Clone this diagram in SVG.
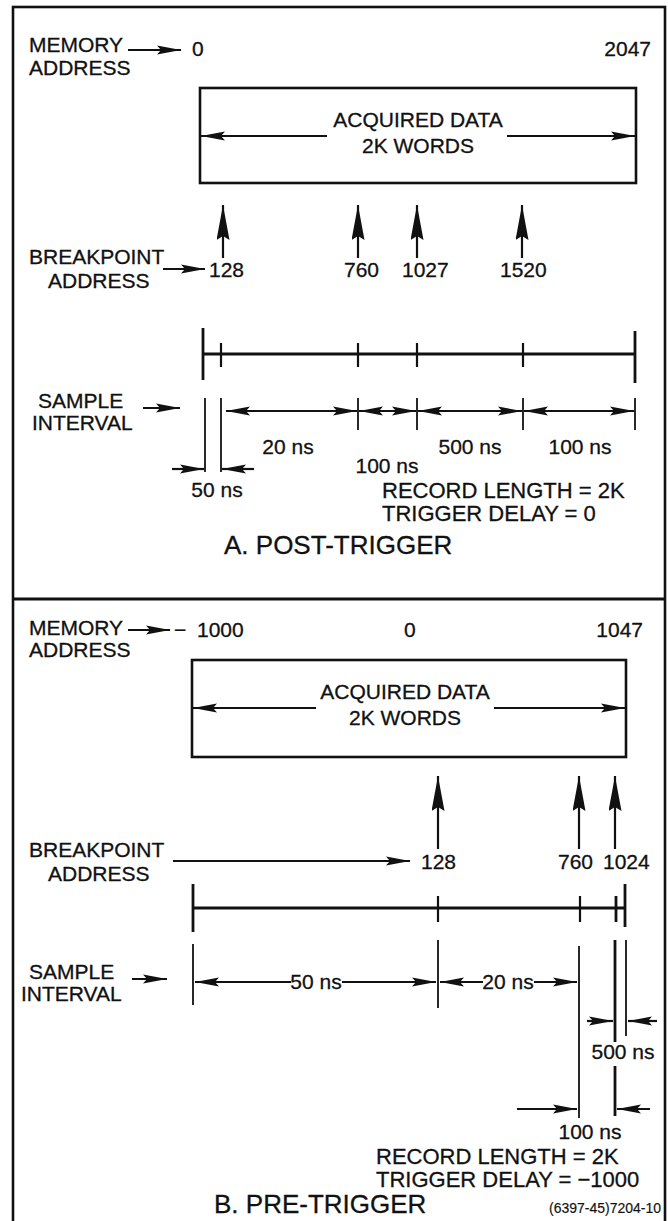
<svg xmlns="http://www.w3.org/2000/svg" width="668" height="1221" viewBox="0 0 668 1221">
<style>
text{font-family:"Liberation Sans",Arial,Helvetica,sans-serif;fill:#111;stroke:#111;stroke-width:0.3}
.l{font-size:21px}
.m{font-size:22px}
.t{font-size:26px}
.c{font-size:14px;stroke-width:0.15}
.mid{text-anchor:middle}
.end{text-anchor:end}
.ln{stroke:#111;stroke-width:2.2;fill:none}
.th{stroke:#111;stroke-width:1.8;fill:none}
.tl{stroke:#111;stroke-width:2.8;fill:none}
.box{stroke:#111;stroke-width:2.6;fill:none}
.ah{marker-end:url(#h)}
.dh{marker-end:url(#h);marker-start:url(#h)}
.up{marker-end:url(#v)}
</style>
<defs>
<marker id="h" viewBox="0 0 24 10" markerWidth="24" markerHeight="10" refX="24" refY="5" orient="auto-start-reverse" markerUnits="userSpaceOnUse">
<path d="M0,0.5 L24,5 L0,9.5 L4,5 z" fill="#111"/>
</marker>
<marker id="v" viewBox="0 0 35 13" markerWidth="35" markerHeight="13" refX="35" refY="6.5" orient="auto" markerUnits="userSpaceOnUse">
<path d="M0,0 L35,6.5 L0,13 L4,6.5 z" fill="#111"/>
</marker>
</defs>
<rect width="668" height="1221" fill="#fff"/>
<g id="frame">
<rect x="13" y="7" width="652" height="1230" class="box" stroke-width="3"/>
<line x1="13" y1="599" x2="665" y2="599" class="tl"/>
</g>

<!-- Section A -->
<g id="a-memory-label"><text class="l" x="29" y="52">MEMORY</text><text class="l" x="29" y="75">ADDRESS</text></g>
<g id="a-mem-0"><text class="l" x="192" y="56">0</text></g>
<g id="a-mem-2047"><text class="l end" x="651" y="56">2047</text></g>
<g id="a-data-box"><rect x="200" y="88" width="436" height="95" class="box"/>
<text class="l mid" x="418" y="127">ACQUIRED DATA</text><text class="l mid" x="418" y="153">2K WORDS</text></g>
<g id="a-bp-label"><text class="l" x="29" y="264">BREAKPOINT</text><text class="l" x="48" y="288">ADDRESS</text></g>
<g id="a-bp-128"><text class="l" x="209" y="277">128</text></g>
<g id="a-bp-760"><text class="l" x="344" y="277">760</text></g>
<g id="a-bp-1027"><text class="l" x="402" y="277">1027</text></g>
<g id="a-bp-1520"><text class="l" x="500" y="277">1520</text></g>
<g id="a-sample-label"><text class="l" x="38" y="408">SAMPLE</text><text class="l" x="32" y="430">INTERVAL</text></g>
<g id="a-intervals">
<text class="l mid" x="288" y="454">20 ns</text>
<text class="l mid" x="387" y="473">100 ns</text>
<text class="l mid" x="470" y="454">500 ns</text>
<text class="l mid" x="580" y="454">100 ns</text>
<text class="l mid" x="217" y="497">50 ns</text>
</g>
<g id="a-notes"><text class="m" x="382" y="498">RECORD LENGTH = 2K</text><text class="m" x="382" y="521">TRIGGER DELAY = 0</text></g>
<g id="a-title"><text class="t" x="224" y="554">A. POST-TRIGGER</text></g>

<!-- Section B -->
<g id="b-memory-label"><text class="l" x="29" y="635">MEMORY</text><text class="l" x="29" y="657">ADDRESS</text></g>
<g id="b-mem-m1000"><text class="l" x="174" y="637">−<tspan x="197">1000</tspan></text></g>
<g id="b-mem-0"><text class="l" x="404" y="637">0</text></g>
<g id="b-mem-1047"><text class="l end" x="643" y="637">1047</text></g>
<g id="b-data-box"><rect x="192" y="660" width="434" height="97" class="box"/>
<text class="l mid" x="405" y="699">ACQUIRED DATA</text><text class="l mid" x="405" y="725">2K WORDS</text></g>
<g id="b-bp-label"><text class="l" x="29" y="857">BREAKPOINT</text><text class="l" x="48" y="881">ADDRESS</text></g>
<g id="b-bp-128"><text class="l" x="421" y="869">128</text></g>
<g id="b-bp-760"><text class="l" x="558" y="869">760</text></g>
<g id="b-bp-1024"><text class="l" x="603" y="869">1024</text></g>
<g id="b-sample-label"><text class="l" x="29" y="979">SAMPLE</text><text class="l" x="21" y="1001">INTERVAL</text></g>
<g id="b-intervals">
<text class="l mid" x="316" y="989">50 ns</text>
<text class="l mid" x="508" y="989">20 ns</text>
<text class="l mid" x="623" y="1059">500 ns</text>
<text class="l mid" x="590" y="1139">100 ns</text>
</g>
<g id="b-notes"><text class="m" x="376" y="1164">RECORD LENGTH = 2K</text><text class="m" x="376" y="1187">TRIGGER DELAY = −1000</text></g>
<g id="b-title"><text class="t" x="214" y="1213">B. PRE-TRIGGER</text></g>
<g id="b-code"><text class="c" x="549" y="1213">(6397-45)7204-10</text></g>

<g id="connectors">
<!-- A -->
<line x1="128" y1="50" x2="181" y2="50" class="ln ah"/>
<line x1="327" y1="136" x2="201" y2="136" class="ln ah"/>
<line x1="507" y1="136" x2="635" y2="136" class="ln ah"/>
<line x1="223" y1="258" x2="223" y2="205" class="ln up"/>
<line x1="358" y1="258" x2="358" y2="205" class="ln up"/>
<line x1="417" y1="258" x2="417" y2="205" class="ln up"/>
<line x1="522" y1="258" x2="522" y2="205" class="ln up"/>
<line x1="163" y1="269" x2="205" y2="269" class="ln ah"/>
<line x1="203" y1="354" x2="635" y2="354" class="tl"/>
<line x1="203" y1="328" x2="203" y2="380" class="tl"/>
<line x1="635" y1="331" x2="635" y2="383" class="tl"/>
<line x1="221" y1="343" x2="221" y2="367" class="ln"/>
<line x1="358" y1="343" x2="358" y2="367" class="ln"/>
<line x1="417" y1="343" x2="417" y2="367" class="ln"/>
<line x1="523" y1="343" x2="523" y2="367" class="ln"/>
<line x1="205" y1="398" x2="205" y2="472" class="th"/>
<line x1="221" y1="398" x2="221" y2="472" class="th"/>
<line x1="358" y1="398" x2="358" y2="430" class="th"/>
<line x1="417" y1="398" x2="417" y2="430" class="th"/>
<line x1="523" y1="398" x2="523" y2="430" class="th"/>
<line x1="635" y1="398" x2="635" y2="430" class="th"/>
<line x1="143" y1="408" x2="180" y2="408" class="ln ah"/>
<line x1="226" y1="411" x2="357" y2="411" class="ln dh"/>
<line x1="359" y1="411" x2="416" y2="411" class="ln dh"/>
<line x1="418" y1="411" x2="522" y2="411" class="ln dh"/>
<line x1="524" y1="411" x2="634" y2="411" class="ln dh"/>
<line x1="172" y1="469" x2="204" y2="469" class="ln ah"/>
<line x1="254" y1="469" x2="222" y2="469" class="ln ah"/>
<!-- B -->
<line x1="128" y1="630" x2="170" y2="630" class="ln ah"/>
<line x1="316" y1="708" x2="193" y2="708" class="ln ah"/>
<line x1="494" y1="708" x2="625" y2="708" class="ln ah"/>
<line x1="438" y1="849" x2="438" y2="776" class="ln up"/>
<line x1="579" y1="849" x2="579" y2="776" class="ln up"/>
<line x1="615" y1="849" x2="615" y2="776" class="ln up"/>
<line x1="173" y1="861" x2="410" y2="861" class="ln ah"/>
<line x1="193" y1="908" x2="625" y2="908" class="tl"/>
<line x1="193" y1="884" x2="193" y2="932" class="tl"/>
<line x1="625" y1="884" x2="625" y2="927" class="tl"/>
<line x1="438" y1="896" x2="438" y2="922" class="ln"/>
<line x1="580" y1="896" x2="580" y2="922" class="ln"/>
<line x1="616" y1="896" x2="616" y2="922" class="tl"/>
<line x1="193" y1="944" x2="193" y2="1005" class="th"/>
<line x1="438" y1="940" x2="438" y2="1008" class="th"/>
<line x1="579" y1="946" x2="579" y2="1118" class="th"/>
<line x1="615" y1="940" x2="615" y2="1042" class="tl"/>
<line x1="615" y1="1066" x2="615" y2="1116" class="tl"/>
<line x1="626" y1="940" x2="626" y2="1036" class="th"/>
<line x1="132" y1="979" x2="167" y2="979" class="ln ah"/>
<line x1="291" y1="982" x2="195" y2="982" class="ln ah"/>
<line x1="342" y1="982" x2="436" y2="982" class="ln ah"/>
<line x1="483" y1="982" x2="440" y2="982" class="ln ah"/>
<line x1="534" y1="982" x2="577" y2="982" class="ln ah"/>
<line x1="587" y1="1021" x2="613" y2="1021" class="ln ah"/>
<line x1="657" y1="1021" x2="628" y2="1021" class="ln ah"/>
<line x1="517" y1="1109" x2="577" y2="1109" class="ln ah"/>
<line x1="650" y1="1109" x2="617" y2="1109" class="ln ah"/>
</g>
</svg>
